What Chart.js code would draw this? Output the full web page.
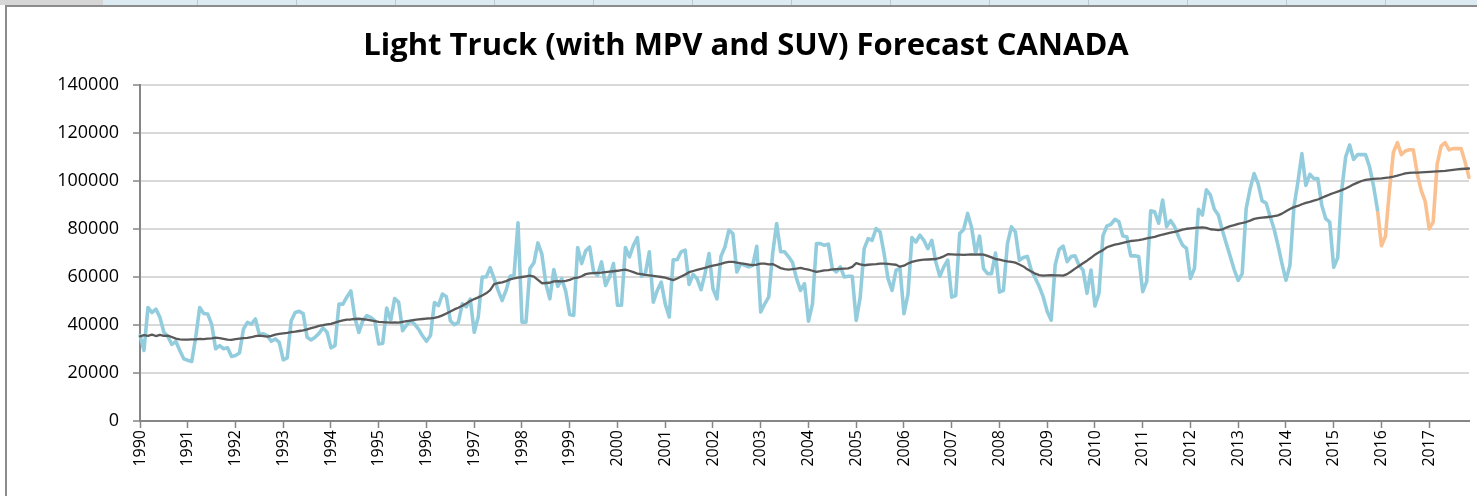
<!DOCTYPE html>
<html>
<head>
<meta charset="utf-8">
<title>Light Truck Forecast CANADA</title>
<script src="https://cdn.jsdelivr.net/npm/chart.js@4.4.0/dist/chart.umd.min.js"></script>
<style>
  html, body { margin: 0; padding: 0; background: #fff; overflow: hidden; }
  #wrap { position: relative; width: 1477px; height: 496px; overflow: hidden; background: #fff; }
  #sheet {
    position: absolute; left: 0; top: 0; width: 1477px; height: 5px;
    background: linear-gradient(to right, #d6d6d6 0 103px, transparent 103px),
                repeating-linear-gradient(to right, #dcebf1 0 98px, #b9c9d1 98px 99px);
  }
  #frame {
    position: absolute; left: 5px; top: 5px; width: 1500px; height: 600px;
    border-left: 2px solid #8c8c8c; border-top: 2px solid #8c8c8c;
  }
  canvas { position: absolute; left: 0; top: 0; }
</style>
</head>
<body>
<div id="wrap">
  <div id="sheet"></div>
  <div id="frame"></div>
  <canvas id="myChart" width="1477" height="496"></canvas>
</div>
<script>
// tick labels (one per year, the axis has one category per month)
const years = [1990, 1991, 1992, 1993, 1994, 1995, 1996, 1997, 1998, 1999, 2000, 2001, 2002, 2003,
  2004, 2005, 2006, 2007, 2008, 2009, 2010, 2011, 2012, 2013, 2014, 2015, 2016, 2017];
const months = ['Jan', 'Feb', 'Mar', 'Apr', 'May', 'Jun', 'Jul', 'Aug', 'Sep', 'Oct', 'Nov', 'Dec'];

// monthly sales, Jan 1990 - Dec 2015
const actual = [
  35600, 29400, 47300, 45200, 46600, 43200, 37000, 35200, 31900, 33200, 29400, 25900,
  25300, 24800, 34900, 47300, 44800, 44600, 40400, 30100, 31400, 30100, 30500, 26900,
  27300, 28300, 38300, 41100, 40400, 42500, 36000, 36300, 35600, 33200, 34200, 32800,
  25500, 26300, 41800, 45200, 45700, 44800, 34900, 33800, 34900, 36500, 38800, 37000,
  30500, 31400, 48700, 48700, 51700, 54200, 43000, 36900, 41800, 43900, 43200, 41800,
  32100, 32400, 47100, 42000, 51000, 49500, 37600, 40000, 41800, 40400, 38300, 35500,
  33200, 35600, 49400, 48100, 52900, 51800, 41800, 40100, 41100, 48800, 47600, 50800,
  37000, 43300, 60000, 60000, 63900, 59300, 54400, 50200, 54400, 60300, 60700, 82600,
  41200, 41200, 63500, 65900, 74200, 69500, 57200, 50900, 63100, 56100, 59300, 54000,
  44400, 44000, 72300, 65600, 70900, 72500, 62100, 60700, 66300, 56500, 60000, 65600,
  48200, 48200, 72300, 68400, 73200, 76400, 60300, 61400, 70500, 49500, 54400, 57900,
  48800, 43300, 67200, 67200, 70500, 71200, 56900, 61100, 59300, 54700, 61400, 69800,
  55100, 50900, 68600, 72500, 79500, 78100, 62100, 65600, 64900, 64200, 64900, 72800,
  45400, 48800, 51600, 69800, 82300, 70500, 70500, 68400, 66000, 59300, 54400, 57200,
  41600, 48800, 73900, 73900, 73200, 73700, 63500, 62100, 64200, 60000, 60300, 60300,
  41900, 51600, 71800, 76000, 75300, 80200, 78800, 69800, 59300, 54400, 62800, 63500,
  44700, 52800, 76400, 74600, 77400, 75300, 71800, 75300, 66300, 60300, 64200, 67000,
  51600, 52300, 78100, 79800, 86500, 80600, 69800, 77000, 63500, 61400, 61400, 70000,
  53700, 54400, 73900, 80900, 78800, 67000, 68100, 68600, 62800, 59500, 56000, 51700,
  45600, 42000, 65000, 71500, 72900, 66400, 68500, 68800, 64900, 62900, 53200, 62900,
  47900, 53200, 77100, 81300, 81900, 84000, 83100, 77100, 76800, 68800, 68800, 68500,
  53900, 58100, 87600, 87200, 82400, 92100, 81000, 83500, 81000, 76800, 73300, 71900,
  59400, 63600, 88200, 85800, 96300, 94200, 88200, 85800, 79600, 74000, 68500, 63000,
  58600, 61400, 88500, 96800, 103100, 98900, 91700, 90800, 85300, 80100, 73200, 65600,
  58600, 64900, 89200, 99600, 111400, 98200, 102800, 101000, 101000, 89900, 84300, 82900,
  64000, 68000, 96000, 110000, 115000, 109000, 111000, 111000, 111000, 106000, 98000, 88000
];

// forecast, Dec 2015 - Nov 2017 (first value joins the actual line)
const forecast = [
  88000,
  73000, 77000, 96000, 112000, 116000, 111000, 112500, 113000, 113000, 103000, 96000, 91500,
  80000, 83000, 107000, 114500, 116000, 113000, 113500, 113500, 113500, 108000, 101500
];

// trend line, Jan 1990 - Nov 2017
const trend = [
  35300, 35800, 35500, 36000, 35400, 35900, 35500, 35600, 35000, 34300, 34000, 33900,
  33900, 34000, 34000, 34200, 34100, 34300, 34400, 34700, 34500, 34200, 33900, 33800,
  34100, 34300, 34500, 34600, 34900, 35400, 35600, 35400, 35200, 35500, 36000, 36300,
  36500, 36700, 37000, 37200, 37500, 37800, 38200, 38700, 39100, 39600, 39900, 40300,
  40500, 41000, 41500, 41900, 42200, 42300, 42500, 42600, 42400, 42200, 41900, 41600,
  41300, 41200, 41100, 41000, 41100, 41000, 41300, 41600, 41800, 42100, 42300, 42500,
  42700, 42800, 43000, 43400, 44000, 44800, 45600, 46500, 47200, 48000, 49000, 50000,
  50800, 51500, 52300, 53200, 54500, 57000, 57500, 57800, 58300, 59000, 59400, 59700,
  60000, 60300, 60600, 60200, 58800, 57400, 57500, 57600, 58200, 58300, 58200, 58400,
  58800, 59500, 59700, 60300, 61200, 61500, 61600, 61700, 61800, 62000, 62200, 62400,
  62600, 62900, 63100, 62600, 62000, 61400, 61200, 60900, 60700, 60500, 60300, 60000,
  59700, 59200, 58700, 59400, 60200, 61000, 62000, 62500, 63000, 63400, 63800, 64300,
  64700, 65100, 65500, 66000, 66300, 66300, 66000, 65700, 65500, 65200, 64900, 65200,
  65600, 65600, 65300, 65400, 64600, 63700, 63300, 63100, 63300, 63500, 63800, 63400,
  63100, 62600, 62100, 62400, 62800, 62900, 63200, 63300, 63400, 63500, 63600, 64200,
  65800, 65300, 64900, 65100, 65300, 65400, 65600, 65600, 65500, 65300, 65100, 64300,
  64700, 65600, 66300, 66700, 67000, 67200, 67300, 67400, 67500, 68000, 68600, 69500,
  69400, 69300, 69300, 69200, 69300, 69400, 69300, 69400, 69300, 68800, 68200, 67500,
  67200, 66800, 66500, 66300, 66000, 65200, 64400, 63200, 62300, 61400, 60800, 60600,
  60700, 60800, 60700, 60700, 60600, 61200, 62300, 63500, 64600, 65700, 66800, 68000,
  69300, 70300, 71200, 72400, 73000, 73500, 73800, 74200, 74600, 75000, 75200, 75400,
  75700, 76100, 76400, 76700, 77200, 77700, 78100, 78500, 78800, 79200, 79700, 80100,
  80300, 80500, 80600, 80700, 80500, 79900, 79700, 79500, 79800, 80600, 81200, 81600,
  82100, 82500, 82900, 83500, 84200, 84500, 84700, 84900, 85100, 85400, 85700, 86400,
  87400, 88300, 89100, 89600, 90300, 90900, 91300, 91800, 92300, 93000, 93700, 94400,
  95000, 95600, 96200, 96900, 97700, 98600, 99300, 100000, 100500, 100700, 100900, 101000,
  101100, 101300, 101500, 101800, 102200, 102700, 103200, 103400, 103500, 103500, 103600, 103700,
  103800, 103900, 104000, 104100, 104200, 104400, 104600, 104800, 105000, 105100, 105200
];

const FONT = '"Open Sans", Lato, sans-serif';

const labels = [];
years.forEach(y => months.forEach(m => labels.push(m + ' ' + y)));
labels.length = trend.length;

const actualData = actual.concat(new Array(labels.length - actual.length).fill(null));
const forecastData = new Array(actual.length - 1).fill(null).concat(forecast);

const lineStyle = {
  pointRadius: 0,
  pointHoverRadius: 0,
  tension: 0,
  borderJoinStyle: 'round',
  borderCapStyle: 'round',
  fill: false
};

const config = {
  type: 'line',
  data: {
    labels: labels,
    datasets: [
      Object.assign({ label: 'Trend', data: trend, borderColor: '#595959', borderWidth: 2.3, order: 0 }, lineStyle),
      Object.assign({ label: 'Light Truck', data: actualData, borderColor: '#93cddd', borderWidth: 3.6, order: 1 }, lineStyle),
      Object.assign({ label: 'Forecast', data: forecastData, borderColor: '#fac090', borderWidth: 3.6, order: 2 }, lineStyle)
    ]
  },
  options: {
    responsive: false,
    animation: false,
    devicePixelRatio: 1,
    // left padding + y axis width put the plot edge at x=140 and centre the title like the original
    layout: { padding: { left: 23, right: 8, top: 0, bottom: 0 } },
    plugins: {
      legend: { display: false },
      tooltip: { enabled: false },
      title: {
        display: true,
        text: 'Light Truck (with MPV and SUV) Forecast CANADA',
        color: '#000',
        font: { family: FONT, size: 31, weight: 'bold', lineHeight: 1.2 },
        padding: { top: 28, bottom: 19.8 }
      }
    },
    scales: {
      x: {
        type: 'category',
        offset: false,
        ticks: {
          autoSkip: false,
          maxRotation: 90,
          minRotation: 90,
          padding: 2,
          color: '#000',
          font: { family: FONT, size: 16 },
          callback: (value, index) => index % 12 === 0 ? String(years[index / 12]) : ''
        },
        grid: {
          drawOnChartArea: false,
          drawTicks: true,
          tickLength: 7,
          tickWidth: 1.5,
          tickColor: ctx => ctx.index % 12 === 0 ? '#868686' : 'rgba(0,0,0,0)'
        },
        border: { color: '#868686', width: 2 },
        afterFit: scale => {
          scale.height = 75;
          scale.paddingLeft = 0;
          scale.paddingRight = 0;
        }
      },
      y: {
        min: 0,
        max: 140000,
        ticks: {
          stepSize: 20000,
          padding: 14,
          color: '#000',
          font: { family: FONT, size: 18 },
          callback: value => String(value)
        },
        grid: {
          color: '#d9d9d9',
          lineWidth: 2,
          drawTicks: true,
          tickLength: 7,
          tickWidth: 1.5,
          tickColor: '#868686'
        },
        border: { color: '#868686', width: 2 },
        afterFit: scale => { scale.width = 117; }
      }
    }
  }
};

const ctx = document.getElementById('myChart');
const myChart = new Chart(ctx, config);
</script>
</body>
</html>
